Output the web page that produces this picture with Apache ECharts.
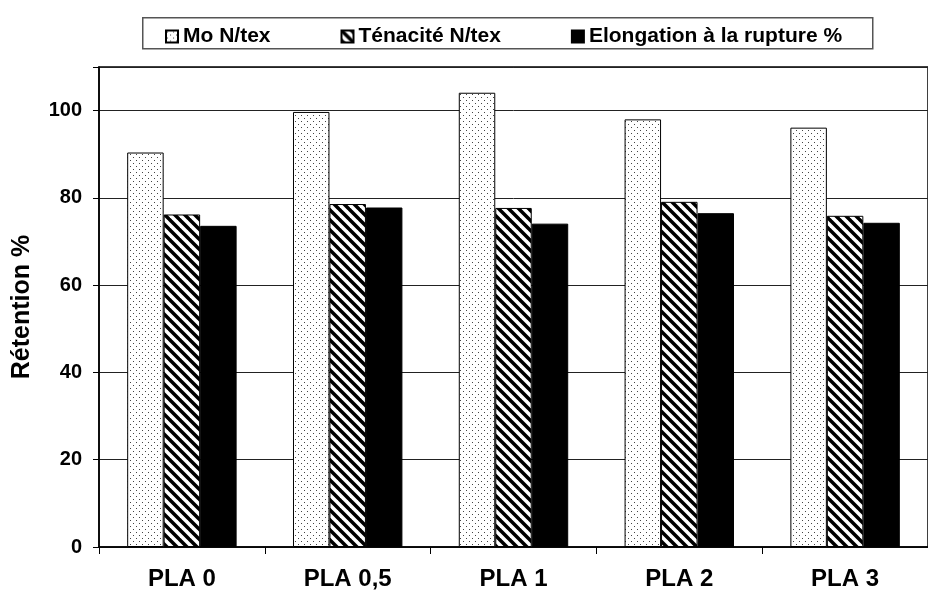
<!DOCTYPE html>
<html>
<head>
<meta charset="utf-8">
<script src="https://cdn.jsdelivr.net/npm/echarts@6/dist/echarts.min.js"></script>
<style>
  html, body { margin: 0; padding: 0; background: #fff; }
  #chart { width: 928px; height: 595px; }
</style>
</head>
<body>
<div id="chart"></div>
<script>
// data
var categories = ['PLA 0', 'PLA 0,5', 'PLA 1', 'PLA 2', 'PLA 3']
var seriesNames = ['Mo N/tex', 'Ténacité N/tex', 'Elongation à la rupture %']
var moValues = [90.4, 99.7, 104.1, 98.0, 96.1]
var tenaciteValues = [76.2, 78.6, 77.7, 79.1, 75.9]
var elongationValues = [73.6, 77.8, 74.1, 76.5, 74.3]
var yTicks = [0, 20, 40, 60, 80, 100]

var font = '"Liberation Sans", Arial, sans-serif'

// dotted fill
function dotPattern() {
  var c = document.createElement('canvas')
  c.width = 6; c.height = 6
  var ctx = c.getContext('2d')
  ctx.fillStyle = '#fff'
  ctx.fillRect(0, 0, 6, 6)
  ctx.fillStyle = '#444'
  ctx.fillRect(1, 1, 1, 1)
  ctx.fillRect(4, 4, 1, 1)
  return c
}

// diagonal hatch "\\\"
function hatchPattern() {
  var s = 10
  var c = document.createElement('canvas')
  c.width = s; c.height = s
  var ctx = c.getContext('2d')
  ctx.fillStyle = '#fff'
  ctx.fillRect(0, 0, s, s)
  ctx.strokeStyle = '#000'
  ctx.lineWidth = 3.5
  for (var k = -1; k <= 1; k++) {
    ctx.beginPath()
    ctx.moveTo(k * s - 1, -1)
    ctx.lineTo(k * s + s + 1, s + 1)
    ctx.stroke()
  }
  return c
}

var fills = [
  { image: dotPattern(), repeat: 'repeat' },
  { image: hatchPattern(), repeat: 'repeat' },
  '#000'
]
var values = [moValues, tenaciteValues, elongationValues]

var myChart = echarts.init(document.getElementById('chart'))

var option = {
  animation: false,
  backgroundColor: '#fff',
  textStyle: { fontFamily: font },
  graphic: [{
    type: 'rect',
    left: 142, top: 17,
    shape: { width: 730, height: 31 },
    style: { fill: '#fff', stroke: '#555', lineWidth: 1.5 },
    z: -1
  }],
  legend: {
    top: 21,
    left: 160,
    itemWidth: 12,
    itemHeight: 12,
    itemGap: 70,
    icon: 'rect',
    textStyle: { fontFamily: font, fontSize: 21, fontWeight: 'bold', color: '#000' },
    data: seriesNames
  },
  grid: { left: 99, top: 67, right: -12, bottom: 48, show: true, borderColor: '#000', borderWidth: 1.5 },
  xAxis: {
    type: 'category',
    data: categories,
    axisLine: { lineStyle: { color: '#000', width: 1.5 } },
    axisTick: { show: true, length: 7, lineStyle: { color: '#000' } },
    axisLabel: { fontFamily: font, fontSize: 24, fontWeight: 'bold', color: '#000', margin: 20 }
  },
  yAxis: {
    type: 'value',
    min: 0, max: 110, interval: 20,
    name: 'Rétention %',
    nameLocation: 'middle',
    nameGap: 64,
    nameTextStyle: { fontFamily: font, fontSize: 25, fontWeight: 'bold', color: '#000' },
    axisLine: { show: true, lineStyle: { color: '#000', width: 1.5 } },
    axisTick: { show: true, length: 6, lineStyle: { color: '#000' } },
    axisLabel: {
      fontFamily: font, fontSize: 20, fontWeight: 'bold', color: '#000', margin: 17,
      formatter: function (v) { return yTicks.indexOf(v) >= 0 ? v : '' }
    },
    splitLine: { lineStyle: { color: '#222', width: 1 } }
  },
  series: seriesNames.map(function (name, i) {
    return {
      name: name,
      type: 'bar',
      data: values[i],
      barGap: '0%',
      barCategoryGap: '34%',
      itemStyle: { color: fills[i], borderColor: '#000', borderWidth: 1 }
    }
  })
}

myChart.setOption(option)
</script>
</body>
</html>
